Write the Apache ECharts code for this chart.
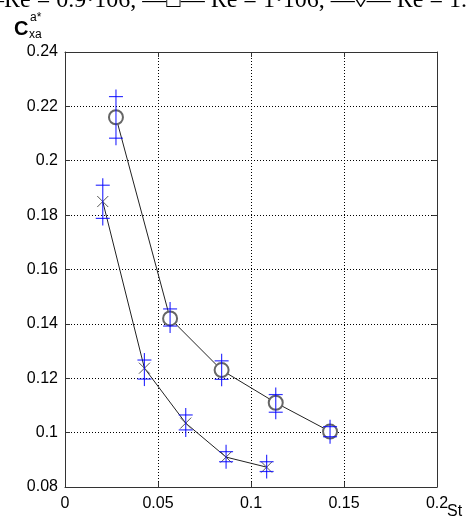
<!DOCTYPE html>
<html>
<head>
<meta charset="utf-8">
<script src="https://cdn.jsdelivr.net/npm/echarts@6/dist/echarts.min.js"></script>
<style>
  html, body { margin: 0; padding: 0; background: #fff; }
  #chart { width: 467px; height: 527px; }
</style>
</head>
<body>
<div id="chart"></div>
<script>
// data
var stCircle = [0.0274, 0.0565, 0.0842, 0.1133, 0.1425]
var cCircle = [0.216, 0.142, 0.123, 0.111, 0.1004]
var circleHi = [0.2236, 0.1455, 0.1264, 0.114, 0.1022]
var circleLo = [0.2083, 0.1392, 0.1196, 0.1075, 0.0985]

var stCross = [0.0203, 0.0427, 0.0649, 0.0866, 0.1084]
var cCross = [0.185, 0.1237, 0.1035, 0.091, 0.0873]
var crossHi = [0.191, 0.1267, 0.1065, 0.093, 0.0893]
var crossLo = [0.1788, 0.1197, 0.101, 0.0893, 0.0857]

var xTicks = [0, 0.05, 0.1, 0.15, 0.2]
var yTicks = [0.08, 0.1, 0.12, 0.14, 0.16, 0.18, 0.2, 0.22, 0.24]

var chart = echarts.init(document.getElementById('chart'))

function pairs (xs, ys) {
    return xs.map(function (x, i) { return [x, ys[i]] })
}
function bars (xs, hi, lo) {
    return xs.map(function (x, i) { return [x, hi[i], lo[i]] })
}
function fmt (v) {
    return String(parseFloat(v.toFixed(3)))
}

// vertical blue bar with a plus at each end
function renderBar (params, api) {
    var top = api.coord([api.value(0), api.value(1)])
    var bot = api.coord([api.value(0), api.value(2)])
    var arm = 7
    var st = { stroke: 'rgba(0,0,255,0.8)', lineWidth: 1.2 }
    return {
        type: 'group',
        children: [
            { type: 'line', shape: { x1: top[0], y1: top[1] - arm, x2: bot[0], y2: bot[1] + arm }, style: st },
            { type: 'line', shape: { x1: top[0] - arm, y1: top[1], x2: top[0] + arm, y2: top[1] }, style: st },
            { type: 'line', shape: { x1: bot[0] - arm, y1: bot[1], x2: bot[0] + arm, y2: bot[1] }, style: st }
        ]
    }
}

var frame = { show: true, onZero: false, lineStyle: { color: '#333', width: 1 } }
var tick = { show: true, inside: true, length: 5, lineStyle: { color: '#333' } }
var grid = { show: true, lineStyle: { color: '#000', type: [1, 2], width: 1 } }
var label = { color: '#000', fontFamily: 'Liberation Sans', fontSize: 16 }

var option = {
    animation: false,
    grid: { left: 65, top: 52, width: 372, height: 435 },
    xAxis: [
        {
            type: 'value', min: xTicks[0], max: xTicks[xTicks.length - 1], interval: 0.05,
            axisLine: frame, axisTick: tick, splitLine: grid,
            axisLabel: Object.assign({ margin: 9, formatter: fmt }, label)
        },
        {
            type: 'value', position: 'top', min: xTicks[0], max: xTicks[xTicks.length - 1], interval: 0.05,
            axisLine: frame, axisTick: tick, splitLine: { show: false }, axisLabel: { show: false }
        }
    ],
    yAxis: [
        {
            type: 'value', min: yTicks[0], max: yTicks[yTicks.length - 1], interval: 0.02,
            axisLine: frame, axisTick: tick, splitLine: grid,
            axisLabel: Object.assign({ margin: 7, formatter: fmt }, label)
        },
        {
            type: 'value', position: 'right', min: yTicks[0], max: yTicks[yTicks.length - 1], interval: 0.02,
            axisLine: frame, axisTick: tick, splitLine: { show: false }, axisLabel: { show: false }
        }
    ],
    graphic: [
        {
            type: 'text', left: -8, top: -11,
            style: { text: '–Re = 0.9·106, —□— Re = 1·106, —◊— Re = 1.', fontFamily: 'Liberation Serif', fontSize: 24, fill: '#000' }
        },
        {
            type: 'text', left: 14, top: 19,
            style: { text: 'C', fontFamily: 'Liberation Sans', fontSize: 20, fontWeight: 'bold', fill: '#000' }
        },
        {
            type: 'text', left: 30, top: 12,
            style: { text: 'a*', fontFamily: 'Liberation Sans', fontSize: 12, fill: '#000' }
        },
        {
            type: 'text', left: 29, top: 29,
            style: { text: 'xa', fontFamily: 'Liberation Sans', fontSize: 12, fill: '#000' }
        },
        {
            type: 'text', left: 447, top: 504,
            style: { text: 'St', fontFamily: 'Liberation Sans', fontSize: 16, fill: '#000' }
        }
    ],
    series: [
        {
            type: 'line', data: pairs(stCircle, cCircle),
            symbol: 'emptyCircle', symbolSize: 14, showAllSymbol: true,
            lineStyle: { color: '#222', width: 1 },
            itemStyle: { color: '#666', borderColor: '#666', borderWidth: 1 },
            z: 2
        },
        {
            type: 'line', data: pairs(stCross, cCross),
            symbol: 'path://M0,0L10,10M10,0L0,10', symbolSize: 11,
            lineStyle: { color: '#222', width: 1 },
            itemStyle: { color: 'none', borderColor: '#555', borderWidth: 1 },
            z: 2
        },
        { type: 'custom', data: bars(stCircle, circleHi, circleLo), renderItem: renderBar, z: 3 },
        { type: 'custom', data: bars(stCross, crossHi, crossLo), renderItem: renderBar, z: 3 }
    ]
}
chart.setOption(option)
</script>
</body>
</html>
